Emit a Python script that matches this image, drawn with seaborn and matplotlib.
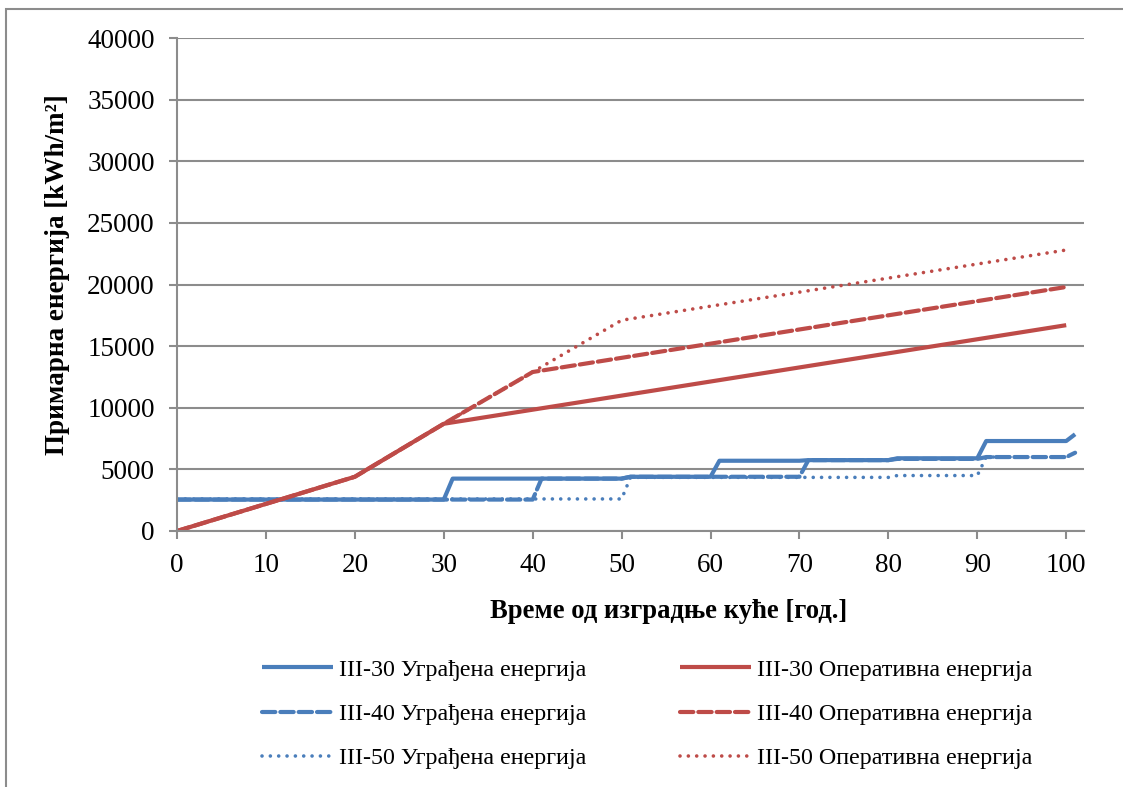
import matplotlib
matplotlib.use("Agg")
import matplotlib.pyplot as plt
import seaborn as sns
import pandas as pd
from matplotlib.patches import Rectangle

# -----------------------------
# Data (breakpoints only)
# -----------------------------
years_emb_30 = [0, 30, 31, 50, 51, 60, 61, 70, 71, 80, 81, 90, 91, 100, 101]
emb_30 = [2550, 2550, 4250, 4250, 4400, 4400, 5700, 5700, 5750, 5750, 5900, 5900, 7300, 7300, 7850]

years_emb_40 = [0, 40, 41, 50, 51, 70, 71, 80, 81, 90, 91, 100, 101]
emb_40 = [2550, 2550, 4250, 4250, 4400, 4400, 5750, 5750, 5850, 5850, 6000, 6000, 6350]

years_emb_50 = [0, 50, 51, 80, 81, 90, 91, 100, 101]
emb_50 = [2600, 2600, 4350, 4350, 4500, 4500, 6000, 6000, 6300]

years_op_30 = [0, 20, 30, 100]
op_30 = [0, 4400, 8700, 16700]

years_op_40 = [0, 20, 30, 40, 100]
op_40 = [0, 4400, 8700, 12900, 19800]

years_op_50 = [0, 20, 30, 40, 50, 100]
op_50 = [0, 4400, 8700, 12900, 17100, 22800]

labels = ["III-30 Уграђена енергија", "III-40 Уграђена енергија", "III-50 Уграђена енергија",
          "III-30 Оперативна енергија", "III-40 Оперативна енергија", "III-50 Оперативна енергија"]

x_ticks = list(range(0, 101, 10))
y_ticks = list(range(0, 40001, 5000))

# -----------------------------
# Styling
# -----------------------------
sns.set_theme(style="white")
plt.rcParams['font.family'] = ['Liberation Serif', 'DejaVu Serif']
plt.rcParams['text.color'] = 'black'
plt.rcParams['axes.labelcolor'] = 'black'

blue = "#4A7EBB"
red = "#BE4B48"
grid_col = "#8C8C8C"

solid = "-"
dashed = (0, (3.2, 1.2))
dotted = (0, (0.01, 2.3))

series = [
    (years_emb_30, emb_30, blue, solid, 3.0),
    (years_emb_40, emb_40, blue, dashed, 3.0),
    (years_emb_50, emb_50, blue, dotted, 2.6),
    (years_op_30, op_30, red, solid, 3.0),
    (years_op_40, op_40, red, dashed, 3.0),
    (years_op_50, op_50, red, dotted, 2.6),
]

fig = plt.figure(figsize=(11.23, 7.87), dpi=100)
ax = fig.add_axes([177 / 1123, 1 - 531 / 787, (1084 - 177) / 1123, (531 - 38) / 787])

for (xs, ys, col, ls, lw), lab in zip(series, labels):
    df = pd.DataFrame({"year": xs, "value": ys})
    sns.lineplot(data=df, x="year", y="value", ax=ax, color=col, linestyle=ls,
                 linewidth=lw, label=lab, dash_capstyle="round", solid_capstyle="butt",
                 legend=False)

ax.set_xlim(0, 102)
ax.set_ylim(0, 40000)
ax.set_xticks(x_ticks)
ax.set_yticks(y_ticks)
ax.tick_params(axis="both", labelsize=19.5, labelcolor="black", length=6, width=1.5,
               color=grid_col, direction="out")
ax.tick_params(axis="x", bottom=True, pad=10)
ax.tick_params(axis="y", left=True, pad=10)
ax.yaxis.grid(True, color=grid_col, linewidth=1.5)
ax.set_axisbelow(True)
for s in ["top", "right"]:
    ax.spines[s].set_visible(False)
for s in ["left", "bottom"]:
    ax.spines[s].set_color(grid_col)
    ax.spines[s].set_linewidth(1.5)

ax.set_xlabel("Време од изградње куће [год.]", fontsize=19.2, fontweight="bold", color="black")
ax.set_ylabel("Примарна енергија [kWh/m²]", fontsize=19.5, fontweight="bold", color="black")
# Excel places the titles slightly off-centre
ax.xaxis.set_label_coords((669 - 177) / 907, -(611 - 531) / 493)
ax.yaxis.set_label_coords(-(177 - 58) / 907, (531 - 275) / 493)
ax.xaxis.label.set_va("center")
ax.yaxis.label.set_va("center")

# legend: 2 columns, row-wise like the original
handles, labs = ax.get_legend_handles_labels()
fig.legend(handles, labs, ncol=2, loc="upper left",
           bbox_to_anchor=(262 / 1123, 1 - 659 / 787), frameon=False,
           fontsize=17.3, handlelength=2.95, handletextpad=0.25,
           columnspacing=3.92, labelspacing=0.93, borderpad=0, borderaxespad=0,
           labelcolor="black")

# chart area border
fig.patches.append(Rectangle((6 / 1123, -0.05), 1.1, 1 - 9 / 787 + 0.05,
                             transform=fig.transFigure, fill=False,
                             edgecolor="#8C8C8C", linewidth=1.5))

fig.savefig("out.png", dpi=100, facecolor="white")
